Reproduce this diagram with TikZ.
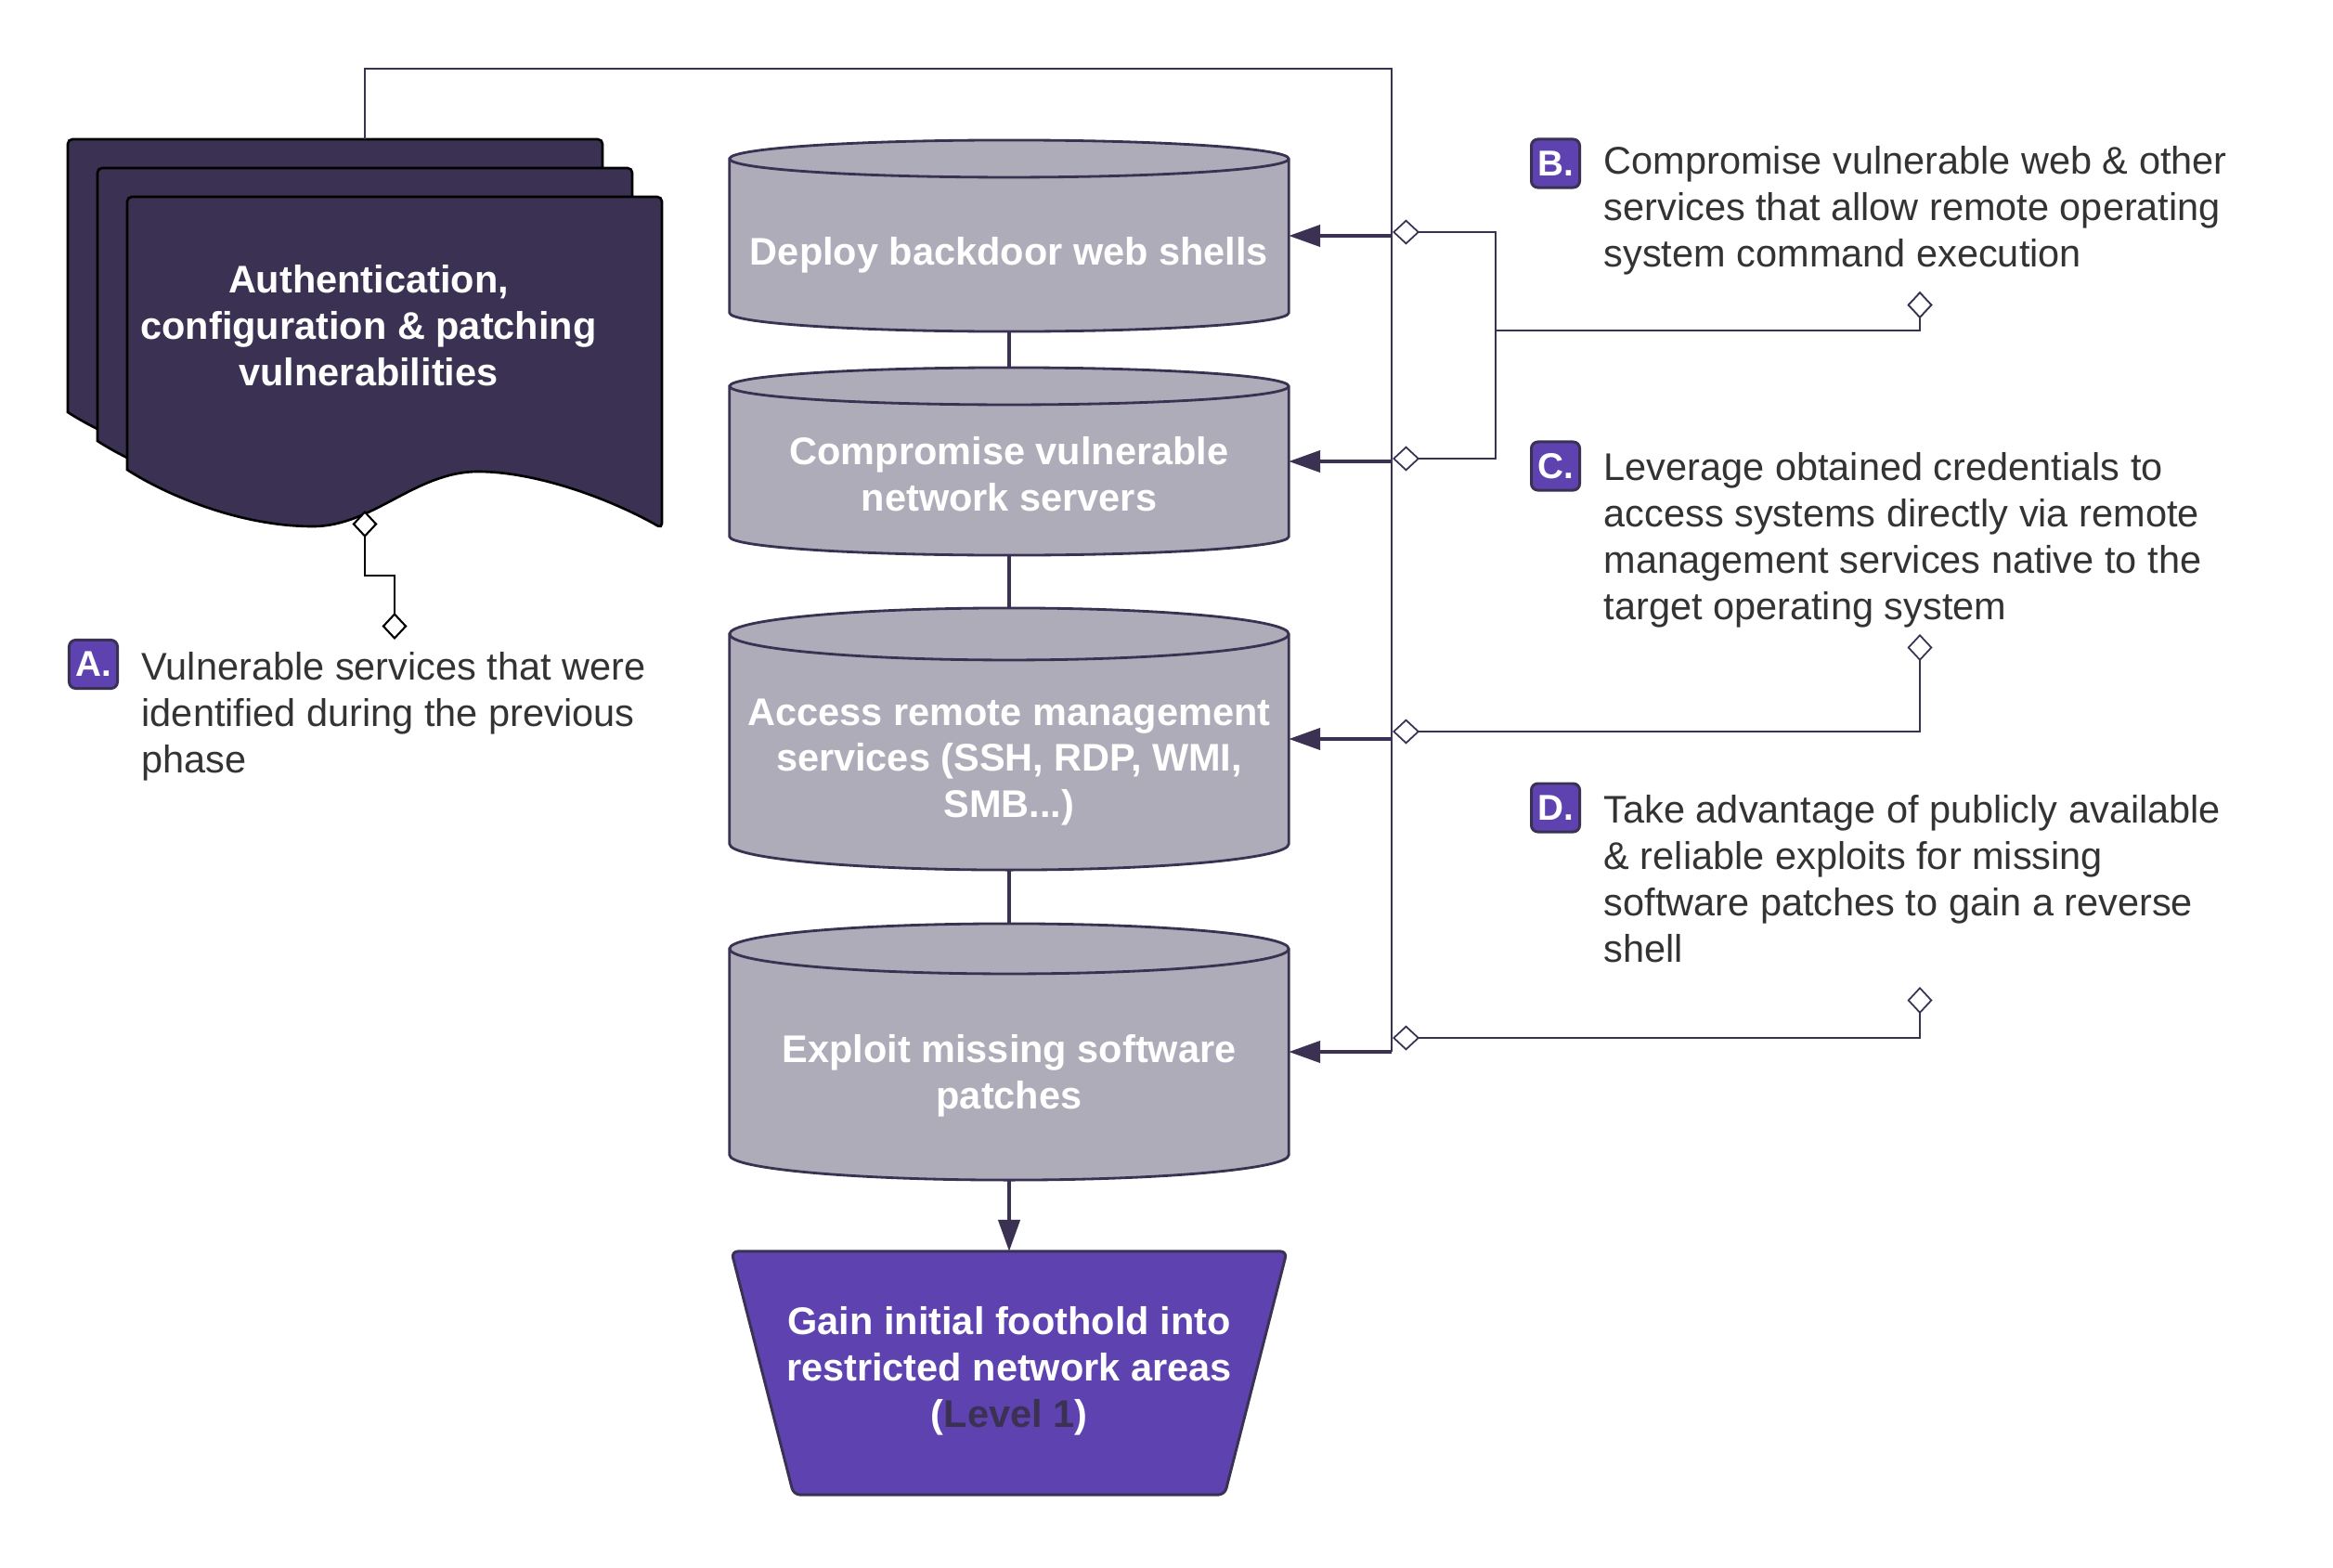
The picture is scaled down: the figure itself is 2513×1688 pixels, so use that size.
\documentclass[tikz,border=0pt]{standalone}
\usepackage{fontspec}
\setmainfont{Liberation Sans}
\usepackage{xcolor}
\usepackage{tikz}
\usetikzlibrary{positioning}
\usetikzlibrary{arrows.meta}

\definecolor{inkdark}{HTML}{3B3253}
\definecolor{cylgray}{HTML}{AFACB9}
\definecolor{badgeviolet}{HTML}{5E43B0}
\definecolor{bodytext}{HTML}{333333}
\newcommand{\txtsize}{\fontsize{11.8}{14.2}\selectfont}

\tikzstyle{cylbox} = [inner sep=0pt, outer sep=0pt, minimum width=6.02cm]
\tikzstyle{cylbody} = [fill=cylgray, draw=inkdark, line width=0.8pt]
\tikzstyle{cylrim} = [draw=inkdark, line width=0.8pt]
\tikzstyle{boldtext} = [text=white, font=\txtsize\bfseries, align=center, inner sep=0pt]
\tikzstyle{sheet} = [fill=inkdark, draw=black, line width=0.75pt]
\tikzstyle{trapbody} = [fill=badgeviolet, draw=inkdark, line width=0.85pt, rounded corners=0.7mm]
\tikzstyle{badge} = [rectangle, rounded corners=0.7mm, fill=badgeviolet, draw=inkdark, line width=0.85pt, minimum size=5.2mm, inner sep=0pt, text=white, font=\fontsize{11}{13}\selectfont\bfseries]
\tikzstyle{annot} = [anchor=north west, align=left, inner sep=0pt, text=bodytext, font=\txtsize]
\tikzstyle{cyllink} = [draw=inkdark, line width=1.2pt]
\tikzstyle{spine} = [draw=inkdark, line width=0.8pt]
\tikzstyle{notepin} = [draw=inkdark, line width=0.5pt, {Diamond[open, fill=white, length=2.9mm, width=2.7mm]}-{Diamond[open, fill=white, length=2.9mm, width=2.7mm]}]
\tikzstyle{blackpin} = [draw=black, line width=0.6pt, {Diamond[open, fill=white, length=2.9mm, width=2.7mm]}-{Diamond[open, fill=white, length=2.9mm, width=2.7mm]}]
\tikzstyle{tip} = [-{Triangle[length=3.4mm, width=2.3mm]}]

\begin{document}
\begin{tikzpicture}[x=0.01cm, y=-0.01cm]
\path [fill=white] (0,0) rectangle (2513,1688);
\useasboundingbox (0,0) rectangle (2513,1688);

%%%% stack of documents
\node [inner sep=0pt, outer sep=0pt, minimum width=6.4cm, minimum height=4.19cm] at (393,359.5) (docs) {};
\path [sheet, shift={(73,150)}] (0,294) [rounded corners=0.5mm] -- (0,0) -- (576,0) -- (576,357) [sharp corners] .. controls (520,325) and (440,296) .. (378,296) .. controls (310,296) and (265,355) .. (200,355) .. controls (120,355) and (40,320) .. (0,294) -- cycle;
\path [sheet, shift={(105,181)}] (0,294) [rounded corners=0.5mm] -- (0,0) -- (576,0) -- (576,357) [sharp corners] .. controls (520,325) and (440,296) .. (378,296) .. controls (310,296) and (265,355) .. (200,355) .. controls (120,355) and (40,320) .. (0,294) -- cycle;
\path [sheet, shift={(137,212)}] (0,294) [rounded corners=0.5mm] -- (0,0) -- (576,0) -- (576,357) [sharp corners] .. controls (520,325) and (440,296) .. (378,296) .. controls (310,296) and (265,355) .. (200,355) .. controls (120,355) and (40,320) .. (0,294) -- cycle;
\node [boldtext] at (397,351) (docs-t) {Authentication,\\configuration \& patching\\vulnerabilities};

%%%% cylinders
% deploy
\node [cylbox, minimum height=2.06cm] at (1087,254) (deploy) {};
\path [cylbody] ([yshift=-2mm]deploy.north west) -- ([yshift=2mm]deploy.south west) arc [start angle=180, end angle=360, x radius=3.01cm, y radius=2mm] -- ([yshift=-2mm]deploy.north east) arc [start angle=0, end angle=180, x radius=3.01cm, y radius=2mm] -- cycle;
\path [cylrim] ([yshift=-2mm]deploy.north west) arc [start angle=180, end angle=360, x radius=3.01cm, y radius=2mm];
\node [boldtext] at (1087,274.5) (deploy-t) {Deploy backdoor web shells};

% compromise
\node [cylbox, minimum height=2.02cm] at (1087,497) (comp) {};
\path [cylbody] ([yshift=-2mm]comp.north west) -- ([yshift=2mm]comp.south west) arc [start angle=180, end angle=360, x radius=3.01cm, y radius=2mm] -- ([yshift=-2mm]comp.north east) arc [start angle=0, end angle=180, x radius=3.01cm, y radius=2mm] -- cycle;
\path [cylrim] ([yshift=-2mm]comp.north west) arc [start angle=180, end angle=360, x radius=3.01cm, y radius=2mm];
\node [boldtext] at (1087,511) (comp-t) {Compromise vulnerable\\network servers};

% access
\node [cylbox, minimum height=2.82cm] at (1087,796) (access) {};
\path [cylbody] ([yshift=-2.8mm]access.north west) -- ([yshift=2.8mm]access.south west) arc [start angle=180, end angle=360, x radius=3.01cm, y radius=2.8mm] -- ([yshift=-2.8mm]access.north east) arc [start angle=0, end angle=180, x radius=3.01cm, y radius=2.8mm] -- cycle;
\path [cylrim] ([yshift=-2.8mm]access.north west) arc [start angle=180, end angle=360, x radius=3.01cm, y radius=2.8mm];
\node [boldtext] at (1087,821) (access-t) {Access remote management\\services (SSH, RDP, WMI,\\SMB...)};

% exploit
\node [cylbox, minimum height=2.76cm] at (1087,1133) (exploit) {};
\path [cylbody] ([yshift=-2.7mm]exploit.north west) -- ([yshift=2.7mm]exploit.south west) arc [start angle=180, end angle=360, x radius=3.01cm, y radius=2.7mm] -- ([yshift=-2.7mm]exploit.north east) arc [start angle=0, end angle=180, x radius=3.01cm, y radius=2.7mm] -- cycle;
\path [cylrim] ([yshift=-2.7mm]exploit.north west) arc [start angle=180, end angle=360, x radius=3.01cm, y radius=2.7mm];
\node [boldtext] at (1087,1158.5) (exploit-t) {Exploit missing software\\patches};

%%%% foothold
\node [inner sep=0pt, outer sep=0pt, minimum width=5.98cm, minimum height=2.62cm] at (1087,1479) (gain) {};
\path [trapbody] (gain.north west) -- (gain.north east) -- ([xshift=-0.67cm]gain.south east) -- ([xshift=0.67cm]gain.south west) -- cycle;
\node [boldtext] at (1087,1476.5) (gain-t) {Gain initial foothold into\\restricted network areas\\({\color{inkdark}Level 1})};

%%%% notes
\node [badge] at (100.5,715.5) (a-badge) {A.};
\node [annot] at (152,702) (a-note) {Vulnerable services that were\\identified during the previous\\phase};
\node [badge] at (1675.5,176) (b-badge) {B.};
\node [annot] at (1727,157) (b-note) {Compromise vulnerable web \& other\\services that allow remote operating\\system command execution};
\node [badge] at (1675.5,502) (c-badge) {C.};
\node [annot] at (1727,487) (c-note) {Leverage obtained credentials to\\access systems directly via remote\\management services native to the\\target operating system};
\node [badge] at (1675.5,870) (d-badge) {D.};
\node [annot] at (1727,856) (d-note) {Take advantage of publicly available\\\& reliable exploits for missing\\software patches to gain a reverse\\shell};

%%%% connections
% cylinder -> cylinder
\path [cyllink] (deploy.south) to (comp.north);
\path [cyllink] (comp.south) to (access.north);
\path [cyllink] (access.south) to (exploit.north);
\path [cyllink, tip] (exploit.south) to (gain.north);

% documents -> spine -> cylinders
\coordinate (spine-top) at (1499,74);
\path [spine] (docs.north) |- (spine-top) -- (spine-top |- exploit.east);
\path [cyllink, tip] (spine-top |- deploy.east) to (deploy.east);
\path [cyllink, tip] (spine-top |- comp.east) to (comp.east);
\path [cyllink, tip] (spine-top |- access.east) to (access.east);
\path [cyllink, tip] (spine-top |- exploit.east) to (exploit.east);

% note pins
\coordinate (a-start) at (393,550);
\coordinate (a-end) at (425,689);
\path [blackpin] (a-start) -- ++(0,70) -| (a-end);

\coordinate (b-pin) at (2068,314);
\coordinate (b-dep) at (1500,250);
\coordinate (b-comp) at (1500,494);
\path [notepin] (b-pin) -- ++(0,42) -- ++(-457,0) |- (b-dep);
\path [notepin] (b-pin) -- ++(0,42) -- ++(-457,0) |- (b-comp);

\coordinate (c-pin) at (2068,683);
\coordinate (c-acc) at (1500,788);
\path [notepin] (c-pin) |- (c-acc);

\coordinate (d-pin) at (2068,1063);
\coordinate (d-exp) at (1500,1118);
\path [notepin] (d-pin) |- (d-exp);
\end{tikzpicture}
\end{document}
